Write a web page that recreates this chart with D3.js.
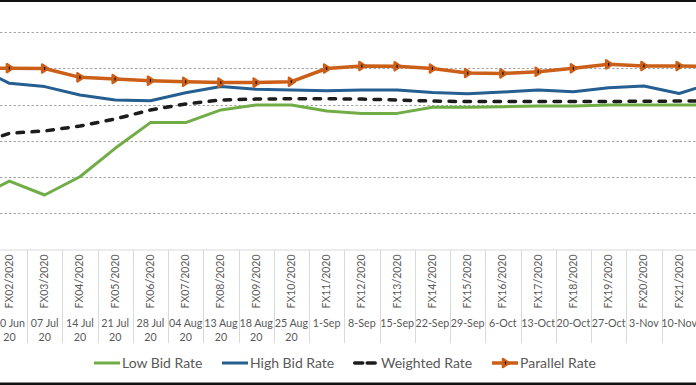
<!DOCTYPE html>
<html>
<head>
<meta charset="utf-8">
<script src="https://cdn.jsdelivr.net/npm/d3@7"></script>
<style>
  html, body { margin: 0; padding: 0; background: #fff; overflow: hidden; }
  svg { display: block; }
</style>
</head>
<body>
<svg id="chart" width="696" height="385"></svg>
<script>
// ---- data (FX01 and FX22 lie just outside the cropped view) ----
const auctions = ["FX01/2020","FX02/2020","FX03/2020","FX04/2020","FX05/2020","FX06/2020","FX07/2020","FX08/2020","FX09/2020","FX10/2020","FX11/2020","FX12/2020","FX13/2020","FX14/2020","FX15/2020","FX16/2020","FX17/2020","FX18/2020","FX19/2020","FX20/2020","FX21/2020","FX22/2020"];
const dates = ["23 Jun 20","30 Jun 20","07 Jul 20","14 Jul 20","21 Jul 20","28 Jul 20","04 Aug 20","13 Aug 20","18 Aug 20","25 Aug 20","1-Sep","8-Sep","15-Sep","22-Sep","29-Sep","6-Oct","13-Oct","20-Oct","27-Oct","3-Nov","10-Nov","17-Nov"];
const lowBid   = [28.0, 37.8, 30.1, 40.2, 55.9, 70.1, 70.1, 77.1, 79.8, 79.8, 76.5, 75.2, 75.2, 78.6, 78.6, 78.9, 79.3, 79.3, 79.8, 79.8, 79.8, 79.8];
const highBid  = [101.5, 91.8, 90.0, 85.4, 82.6, 82.2, 86.6, 90.0, 88.5, 88.1, 87.7, 88.1, 88.1, 86.8, 86.0, 87.0, 88.1, 87.2, 89.4, 90.3, 86.2, 92.2];
const weighted = [57.4, 64.2, 65.5, 68.2, 72.1, 77.1, 80.4, 82.6, 83.1, 83.3, 83.3, 83.1, 82.6, 82.0, 81.7, 81.7, 81.7, 81.8, 81.8, 81.9, 82.0, 82.0];
const parallel = [100.0, 100.2, 100.0, 95.1, 94.2, 93.3, 92.7, 92.2, 92.2, 92.7, 100.0, 101.4, 101.2, 100.0, 97.5, 97.3, 98.2, 100.1, 102.3, 101.4, 101.4, 101.2];
const yTicks = [0, 20, 40, 60, 80, 100, 120];
const seriesNames = ["Low Bid Rate", "High Bid Rate", "Weighted Rate", "Parallel Rate"];

// ---- styles ----
const colors = { low: "#70ad47", high: "#255e91", weighted: "#1c1c1c", parallel: "#cc5f17" };
const textColor = "#595959";
const fontFam = "Lato, 'Open Sans', 'Liberation Sans', sans-serif";

const svg = d3.select("#chart");
const W = 696, H = 385;

const step = 35.25;
const x = d3.scalePoint().domain(auctions).range([9.4 - step, 9.4 + 20 * step]);
const y = d3.scaleLinear().domain([0, 120]).range([249.5, 32.3]);

// only categories whose centre lies inside the (cropped) view get labels
const visible = auctions.filter(d => x(d) >= 0 && x(d) <= W);

// gridlines
svg.append("g").selectAll("line").data(yTicks.filter(d => d > 0)).join("line")
  .attr("x1", 0).attr("x2", W)
  .attr("y1", d => Math.round(y(d)) + 0.5).attr("y2", d => Math.round(y(d)) + 0.5)
  .attr("stroke", "#a6a6a6").attr("stroke-width", 1).attr("stroke-dasharray", "2.5 2");

// category axis: base line + separators
const axisG = svg.append("g");
axisG.append("line").attr("x1", 0).attr("x2", W)
  .attr("y1", 250).attr("y2", 250).attr("stroke", "#d9d9d9").attr("stroke-width", 1);
axisG.selectAll("line.sep").data(auctions).join("line").attr("class", "sep")
  .attr("x1", d => Math.round(x(d) + step / 2) + 0.5).attr("x2", d => Math.round(x(d) + step / 2) + 0.5)
  .attr("y1", 250).attr("y2", 343).attr("stroke", "#d9d9d9").attr("stroke-width", 1);

// auction labels (rotated)
axisG.selectAll("text.fx").data(visible).join("text").attr("class", "fx")
  .attr("transform", d => `translate(${x(d) + 3.5},281.5) rotate(-90)`)
  .attr("text-anchor", "middle")
  .attr("font-family", fontFam).attr("font-size", 10.5).attr("fill", textColor)
  .text(d => d);

// date labels (wrapped)
const dateG = axisG.selectAll("text.dt").data(visible).join("text").attr("class", "dt")
  .attr("text-anchor", "middle")
  .attr("font-family", fontFam).attr("font-size", 10.7).attr("fill", textColor);
dateG.each(function(d) {
  const i = auctions.indexOf(d);
  const parts = dates[i].split(" ");
  const lines = parts.length === 3 ? [parts[0] + " " + parts[1], parts[2]] : [dates[i]];
  d3.select(this).selectAll("tspan").data(lines).join("tspan")
    .attr("x", x(d)).attr("y", (l, j) => 327 + j * 14).text(l => l);
});

// lines
const line = vals => d3.line().x((v, i) => x(auctions[i])).y(v => y(v))(vals);
const plot = svg.append("g");
plot.append("path").attr("d", line(lowBid)).attr("fill", "none")
  .attr("stroke", colors.low).attr("stroke-width", 3).attr("stroke-linejoin", "round");
plot.append("path").attr("d", line(highBid)).attr("fill", "none")
  .attr("stroke", colors.high).attr("stroke-width", 3).attr("stroke-linejoin", "round");
plot.append("path").attr("d", line(weighted)).attr("fill", "none")
  .attr("stroke", colors.weighted).attr("stroke-width", 3.5).attr("stroke-linecap", "round")
  .attr("stroke-dasharray", "6.5 8.5");
plot.append("path").attr("d", line(parallel)).attr("fill", "none")
  .attr("stroke", colors.parallel).attr("stroke-width", 3.5).attr("stroke-linejoin", "round");

function marker(g, cx, cy) {
  g.append("path")
    .attr("d", `M${cx - 2.5},${cy - 4} L${cx + 3.5},${cy} L${cx - 2.5},${cy + 4} Z`)
    .attr("fill", colors.parallel).attr("stroke", colors.parallel)
    .attr("stroke-width", 2.5).attr("stroke-linejoin", "round");
  g.append("rect").attr("x", cx - 0.6).attr("y", cy - 1.5).attr("width", 1.2).attr("height", 3)
    .attr("fill", "#111");
}
const mk = plot.append("g");
parallel.forEach((v, i) => marker(mk, x(auctions[i]), y(v)));

// legend
const legY = 363;
const leg = svg.append("g");
const legItems = [
  { name: seriesNames[0], x0: 94, color: colors.low, w: 3, dash: null },
  { name: seriesNames[1], x0: 222, color: colors.high, w: 3, dash: null },
  { name: seriesNames[2], x0: 353, color: colors.weighted, w: 3.5, dash: "8 4.5" },
  { name: seriesNames[3], x0: 492, color: colors.parallel, w: 3.5, dash: null }
];
legItems.forEach((it, i) => {
  leg.append("line").attr("x1", it.x0 + (it.dash ? 1.7 : 0)).attr("x2", it.x0 + 26 - (it.dash ? 1.7 : 0))
    .attr("y1", legY).attr("y2", legY)
    .attr("stroke", it.color).attr("stroke-width", it.w)
    .attr("stroke-linecap", it.dash ? "round" : "butt")
    .attr("stroke-dasharray", it.dash);
  if (i === 3) marker(leg, it.x0 + 13.5, legY);
  leg.append("text").attr("x", it.x0 + 28).attr("y", legY + 4.5)
    .attr("font-family", fontFam).attr("font-size", 14).attr("fill", textColor)
    .text(it.name);
});

// cropped-frame dark borders
svg.append("rect").attr("x", 0).attr("y", 0).attr("width", W).attr("height", 2).attr("fill", "#111");
svg.append("rect").attr("x", 0).attr("y", 382.5).attr("width", W).attr("height", 3).attr("fill", "#111");
</script>
</body>
</html>
